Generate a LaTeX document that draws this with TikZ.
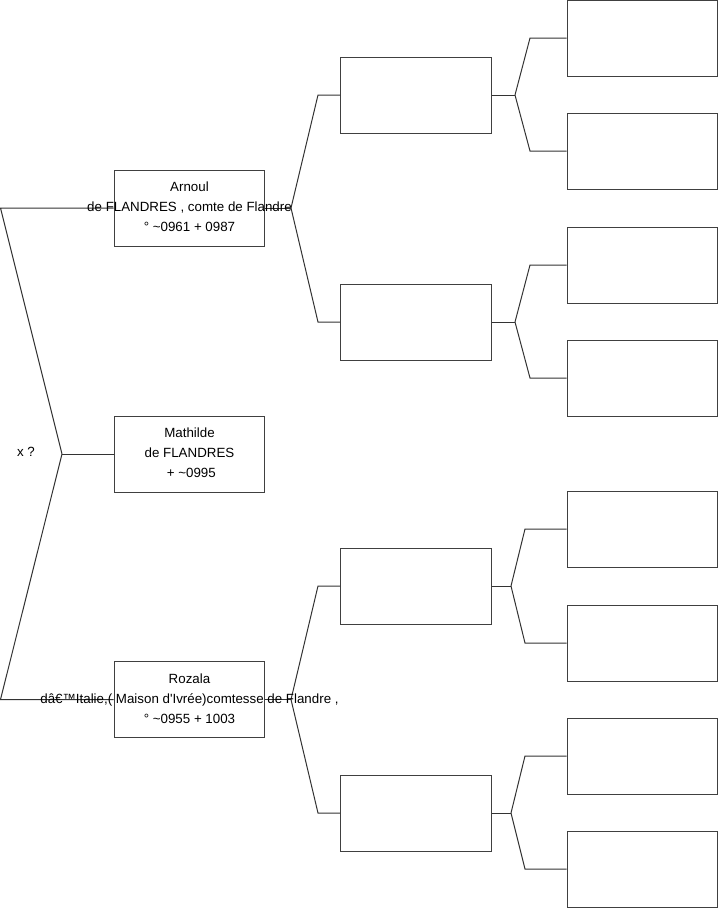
\documentclass[tikz,border=0pt]{standalone}
\usepackage{fontspec}
\setmainfont{Liberation Sans}
\usetikzlibrary{positioning}
\tikzset{
    % cadre d'une personne
    personbox/.style={
        draw=black!75,
        line width=0.75pt,
        minimum width=113pt,
        minimum height=57pt,
        inner sep=0pt
    },
    persontext/.style={
        align=center,
        inner sep=0pt,
        font=\fontsize{10}{15}\selectfont
    },
    link/.style={
        line width=0.75pt,
        black!80
    }
}

\begin{document}
\begin{tikzpicture}[x=0.75pt,y=-0.75pt]
    \useasboundingbox (0,0) rectangle (719,908);
    % generation 1
    \node[personbox] (arnoul) at (189.5,208) {};
    \node[personbox] (mathilde) at (189.5,454) {};
    \node[personbox] (rozala) at (189.5,699.5) {};
    % generation 2
    \node[personbox] (arnoulP) at (416,95) {};
    \node[personbox] (arnoulM) at (416,322) {};
    \node[personbox] (rozalaP) at (416,586) {};
    \node[personbox] (rozalaM) at (416,813) {};
    % generation 3
    \node[personbox] (a1) at (642.5,38) {};
    \node[personbox] (a2) at (642.5,151) {};
    \node[personbox] (a3) at (642.5,265) {};
    \node[personbox] (a4) at (642.5,378) {};
    \node[personbox] (r1) at (642.5,529) {};
    \node[personbox] (r2) at (642.5,643) {};
    \node[personbox] (r3) at (642.5,756) {};
    \node[personbox] (r4) at (642.5,869) {};

    \node (unknown) at (26,452) {\fontsize{10}{15}\selectfont x ?};

    % forks
    \coordinate (f0) at (62,454);
    \draw[link] (mathilde.west) -- (f0);
    \draw[link] (f0) -- (arnoul.west -| 0.5,0) -- (arnoul.west);
    \draw[link] (f0) -- (rozala.west -| 0.5,0) -- (rozala.west);

    \coordinate (fa) at (291,208);
    \draw[link] (arnoul.east) -- (fa);
    \draw[link] (fa) -- (arnoulP.west -| 318,0) -- (arnoulP.west);
    \draw[link] (fa) -- (arnoulM.west -| 318,0) -- (arnoulM.west);

    \coordinate (fr) at (291,699.5);
    \draw[link] (rozala.east) -- (fr);
    \draw[link] (fr) -- (rozalaP.west -| 318,0) -- (rozalaP.west);
    \draw[link] (fr) -- (rozalaM.west -| 318,0) -- (rozalaM.west);

    \coordinate (fap) at (515,95);
    \draw[link] (arnoulP.east) -- (fap);
    \draw[link] (fap) -- (a1.west -| 530,0) -- (a1.west);
    \draw[link] (fap) -- (a2.west -| 530,0) -- (a2.west);

    \coordinate (fam) at (515,322);
    \draw[link] (arnoulM.east) -- (fam);
    \draw[link] (fam) -- (a3.west -| 530,0) -- (a3.west);
    \draw[link] (fam) -- (a4.west -| 530,0) -- (a4.west);

    \coordinate (frp) at (511,586);
    \draw[link] (rozalaP.east) -- (frp);
    \draw[link] (frp) -- (r1.west -| 525,0) -- (r1.west);
    \draw[link] (frp) -- (r2.west -| 525,0) -- (r2.west);

    \coordinate (frm) at (511,813);
    \draw[link] (rozalaM.east) -- (frm);
    \draw[link] (frm) -- (r3.west -| 525,0) -- (r3.west);
    \draw[link] (frm) -- (r4.west -| 525,0) -- (r4.west);

    % textes
    \node[persontext] (arnoulT) at ([yshift=0.75pt]arnoul) {Arnoul\\de FLANDRES , comte de Flandre\\° \textasciitilde0961 + 0987};
    \node[persontext] (mathildeT) at ([yshift=0.75pt]mathilde) {Mathilde\\de FLANDRES\\\ + \textasciitilde0995};
    \node[persontext] (rozalaT) at ([yshift=0.75pt]rozala) {Rozala\\dâ€™Italie,( Maison d\textquotesingle Ivrée)comtesse de Flandre ,\\° \textasciitilde0955 + 1003};
\end{tikzpicture}
\end{document}
